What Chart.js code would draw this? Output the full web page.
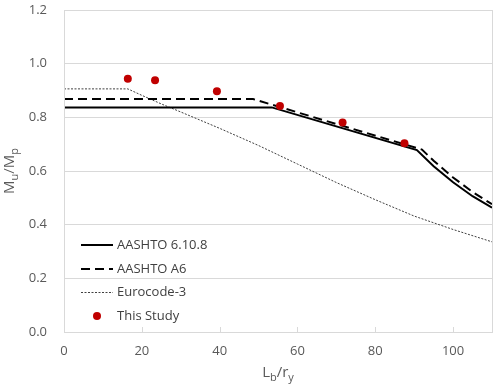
<!DOCTYPE html>
<html>
<head>
<meta charset="utf-8">
<script src="https://cdn.jsdelivr.net/npm/chart.js@4/dist/chart.umd.min.js"></script>
<style>
    body { margin: 0; background: #ffffff; }
</style>
</head>
<body>
<canvas id="graph" width="500" height="392"></canvas>
<script>
// values (Lb/ry vs Mu/Mp)
const aashto6108X = [0, 53.4, 90.7, 95, 100, 105, 110];
const aashto6108Y = [0.837, 0.837, 0.678, 0.618, 0.558, 0.506, 0.463];

const aashtoA6X = [0, 48.6, 92, 95, 100, 105, 110];
const aashtoA6Y = [0.868, 0.868, 0.680, 0.638, 0.576, 0.522, 0.476];

const eurocodeX = [0, 16.4, 20, 25, 30, 40, 50, 60, 70, 80, 90, 100, 110];
const eurocodeY = [0.906, 0.906, 0.882, 0.850, 0.820, 0.759, 0.695, 0.626, 0.557, 0.493, 0.432, 0.382, 0.336];

const studyX = [16.4, 23.4, 39.3, 55.5, 71.6, 87.5];
const studyY = [0.944, 0.938, 0.897, 0.842, 0.781, 0.703];

const xTicks = [0, 20, 40, 60, 80, 100];
const yTicks = [0, 0.2, 0.4, 0.6, 0.8, 1.0, 1.2];

const seriesNames = ['AASHTO 6.10.8', 'AASHTO A6', 'Eurocode-3', 'This Study'];

const FONT = "'Open Sans', 'Liberation Sans', sans-serif";
const TEXT_COLOR = '#595959';
const GRID_COLOR = '#d9d9d9';

function toPoints(xs, ys) {
    let pts = [];
    for (let i = 0; i < xs.length; i++) {
        pts.push({ x: xs[i], y: ys[i] });
    }
    return pts;
}

// draws text like M_u/M_p with subscripts, centred on (cx, cy)
function drawSubText(ctx, parts, cx, cy, size) {
    const subSize = Math.round(size * 0.72);
    let widths = [];
    let total = 0;
    for (let i = 0; i < parts.length; i++) {
        ctx.font = (parts[i].sub ? subSize : size) + 'px ' + FONT;
        const w = ctx.measureText(parts[i].t).width;
        widths.push(w);
        total += w;
    }
    let x = cx - total / 2;
    for (let i = 0; i < parts.length; i++) {
        ctx.font = (parts[i].sub ? subSize : size) + 'px ' + FONT;
        ctx.fillText(parts[i].t, x, parts[i].sub ? cy + size * 0.32 : cy);
        x += widths[i];
    }
}

const excelLook = {
    id: 'excelLook',
    afterDraw(chart) {
        const ctx = chart.ctx;
        const area = chart.chartArea;
        const xScale = chart.scales.x;

        ctx.save();
        // plot area frame
        ctx.strokeStyle = GRID_COLOR;
        ctx.lineWidth = 1;
        ctx.strokeRect(Math.round(area.left) + 0.5, Math.round(area.top) + 0.5,
            Math.round(area.right - area.left), Math.round(area.bottom - area.top));

        // inside tick marks on the x axis
        ctx.beginPath();
        for (let i = 1; i < xTicks.length; i++) {
            const px = Math.round(xScale.getPixelForValue(xTicks[i])) + 0.5;
            ctx.moveTo(px, area.bottom);
            ctx.lineTo(px, area.bottom - 5);
        }
        ctx.stroke();

        // axis titles
        ctx.fillStyle = TEXT_COLOR;
        ctx.textAlign = 'left';
        ctx.textBaseline = 'middle';
        drawSubText(ctx, [{ t: 'L' }, { t: 'b', sub: true }, { t: '/r' }, { t: 'y', sub: true }],
            (area.left + area.right) / 2, 373, 15);

        ctx.save();
        ctx.translate(10, (area.top + area.bottom) / 2);
        ctx.rotate(-Math.PI / 2);
        drawSubText(ctx, [{ t: 'M' }, { t: 'u', sub: true }, { t: '/M' }, { t: 'p', sub: true }], 0, 0, 15);
        ctx.restore();

        // legend inside the plot, bottom left
        const rowY = [245, 269, 292.5, 316];
        const datasets = chart.data.datasets;
        for (let i = 0; i < datasets.length; i++) {
            const ds = datasets[i];
            const y = rowY[i];
            if (ds.showLine) {
                ctx.beginPath();
                ctx.setLineDash(ds.borderDash || []);
                ctx.strokeStyle = ds.borderColor;
                ctx.lineWidth = ds.borderWidth;
                ctx.moveTo(81, y);
                ctx.lineTo(113, y);
                ctx.stroke();
                ctx.setLineDash([]);
            } else {
                ctx.beginPath();
                ctx.fillStyle = ds.backgroundColor;
                ctx.arc(97, y, ds.pointRadius, 0, Math.PI * 2);
                ctx.fill();
            }
            ctx.fillStyle = '#404040';
            ctx.font = '13px ' + FONT;
            ctx.textBaseline = 'middle';
            ctx.fillText(ds.label, 117, y);
        }
        ctx.restore();
    }
};

new Chart(document.getElementById('graph'), {
    type: 'scatter',
    data: {
        datasets: [
            {
                label: seriesNames[0],
                data: toPoints(aashto6108X, aashto6108Y),
                showLine: true,
                borderColor: '#000000',
                borderWidth: 2,
                pointRadius: 0,
                order: 2
            },
            {
                label: seriesNames[1],
                data: toPoints(aashtoA6X, aashtoA6Y),
                showLine: true,
                borderColor: '#000000',
                borderWidth: 2,
                borderDash: [9, 5],
                pointRadius: 0,
                order: 1
            },
            {
                label: seriesNames[2],
                data: toPoints(eurocodeX, eurocodeY),
                showLine: true,
                borderColor: '#404040',
                borderWidth: 1,
                borderDash: [2, 1.5],
                pointRadius: 0,
                order: 3
            },
            {
                label: seriesNames[3],
                data: toPoints(studyX, studyY),
                showLine: false,
                backgroundColor: '#c00000',
                borderWidth: 0,
                pointRadius: 4,
                order: 0
            }
        ]
    },
    options: {
        responsive: false,
        animation: false,
        events: [],
        layout: { padding: { top: 10, right: 8, left: 0, bottom: 0 } },
        plugins: {
            legend: { display: false },
            tooltip: { enabled: false }
        },
        scales: {
            x: {
                type: 'linear',
                min: 0,
                max: 110,
                afterBuildTicks: function (scale) {
                    scale.ticks = xTicks.map(function (v) { return { value: v }; });
                },
                afterFit: function (scale) {
                    scale.height = 60;
                    scale.paddingLeft = 0;
                    scale.paddingRight = 0;
                },
                ticks: {
                    color: TEXT_COLOR,
                    font: { family: FONT, size: 13 },
                    padding: 11,
                    maxRotation: 0
                },
                grid: { display: false, drawTicks: false },
                border: { color: GRID_COLOR }
            },
            y: {
                min: 0,
                max: 1.2,
                afterBuildTicks: function (scale) {
                    scale.ticks = yTicks.map(function (v) { return { value: v }; });
                },
                afterFit: function (scale) {
                    scale.width = 64;
                    scale.paddingTop = 0;
                    scale.paddingBottom = 0;
                },
                ticks: {
                    color: TEXT_COLOR,
                    font: { family: FONT, size: 13 },
                    padding: 17,
                    callback: function (v) { return Number(v).toFixed(1); }
                },
                grid: { color: GRID_COLOR, drawTicks: false },
                border: { color: GRID_COLOR }
            }
        }
    },
    plugins: [excelLook]
});
</script>
</body>
</html>
